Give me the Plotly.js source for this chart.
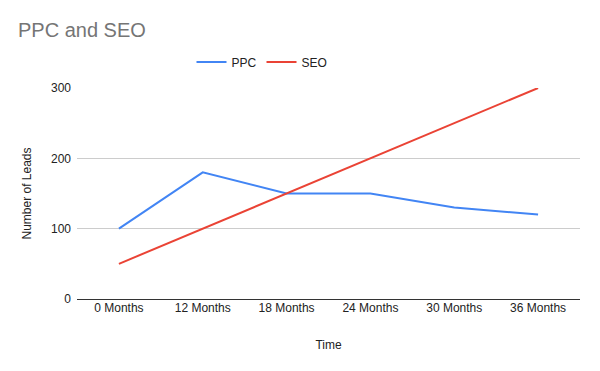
<!DOCTYPE html>
<html>
<head>
<meta charset="utf-8">
<script src="https://cdn.plot.ly/plotly-3.0.1.min.js"></script>
<style>html,body{margin:0;padding:0;background:#fff;}#chart{width:600px;height:371px;}</style>
</head>
<body>
<div id="chart"></div>
<script>
const categories = ["0 Months", "12 Months", "18 Months", "24 Months", "30 Months", "36 Months"];
const ppcValues = [100, 180, 150, 150, 130, 120];
const seoValues = [50, 100, 150, 200, 250, 300];
const yTicks = [0, 100, 200, 300];

const font = "'Liberation Sans', Arial, sans-serif";
const traces = [
  {x: categories, y: ppcValues, name: "PPC", type: "scatter", mode: "lines",
   line: {color: "#4285F4", width: 2}},
  {x: categories, y: seoValues, name: "SEO", type: "scatter", mode: "lines",
   line: {color: "#EA4335", width: 2}}
];
const layout = {
  width: 600, height: 371,
  margin: {l: 77, r: 20, t: 88, b: 72},
  paper_bgcolor: "#fff", plot_bgcolor: "#fff",
  font: {family: font, size: 12, color: "#222"},
  title: {text: "PPC and SEO", x: 18/600, xanchor: "left", y: 1-30/371, yanchor: "middle",
          font: {family: font, size: 20, color: "#757575"}},
  showlegend: true,
  legend: {orientation: "h", x: (262-77)/503, xanchor: "center", y: 1 + 26/211, yanchor: "middle",
           font: {family: font, size: 12, color: "#222"}, itemwidth: 30},
  xaxis: {type: "category", range: [-0.5, 5.5], showgrid: false, zeroline: false, showline: false,
          ticks: "", tickfont: {size: 12, color: "#222"},
          title: {text: "Time", font: {size: 12, color: "#222"}, standoff: 26}},
  yaxis: {range: [0, 300], tickvals: yTicks, ticktext: yTicks.map(String),
          showgrid: true, gridcolor: "#cccccc", zeroline: true, zerolinecolor: "#333333", zerolinewidth: 1,
          ticks: "", ticklabelstandoff: 5, tickfont: {size: 12, color: "#222"},
          title: {text: "Number of Leads", font: {size: 12, color: "#222"}, standoff: 16}}
};
Plotly.newPlot("chart", traces, layout, {displayModeBar: false, staticPlot: true});
</script>
</body>
</html>
